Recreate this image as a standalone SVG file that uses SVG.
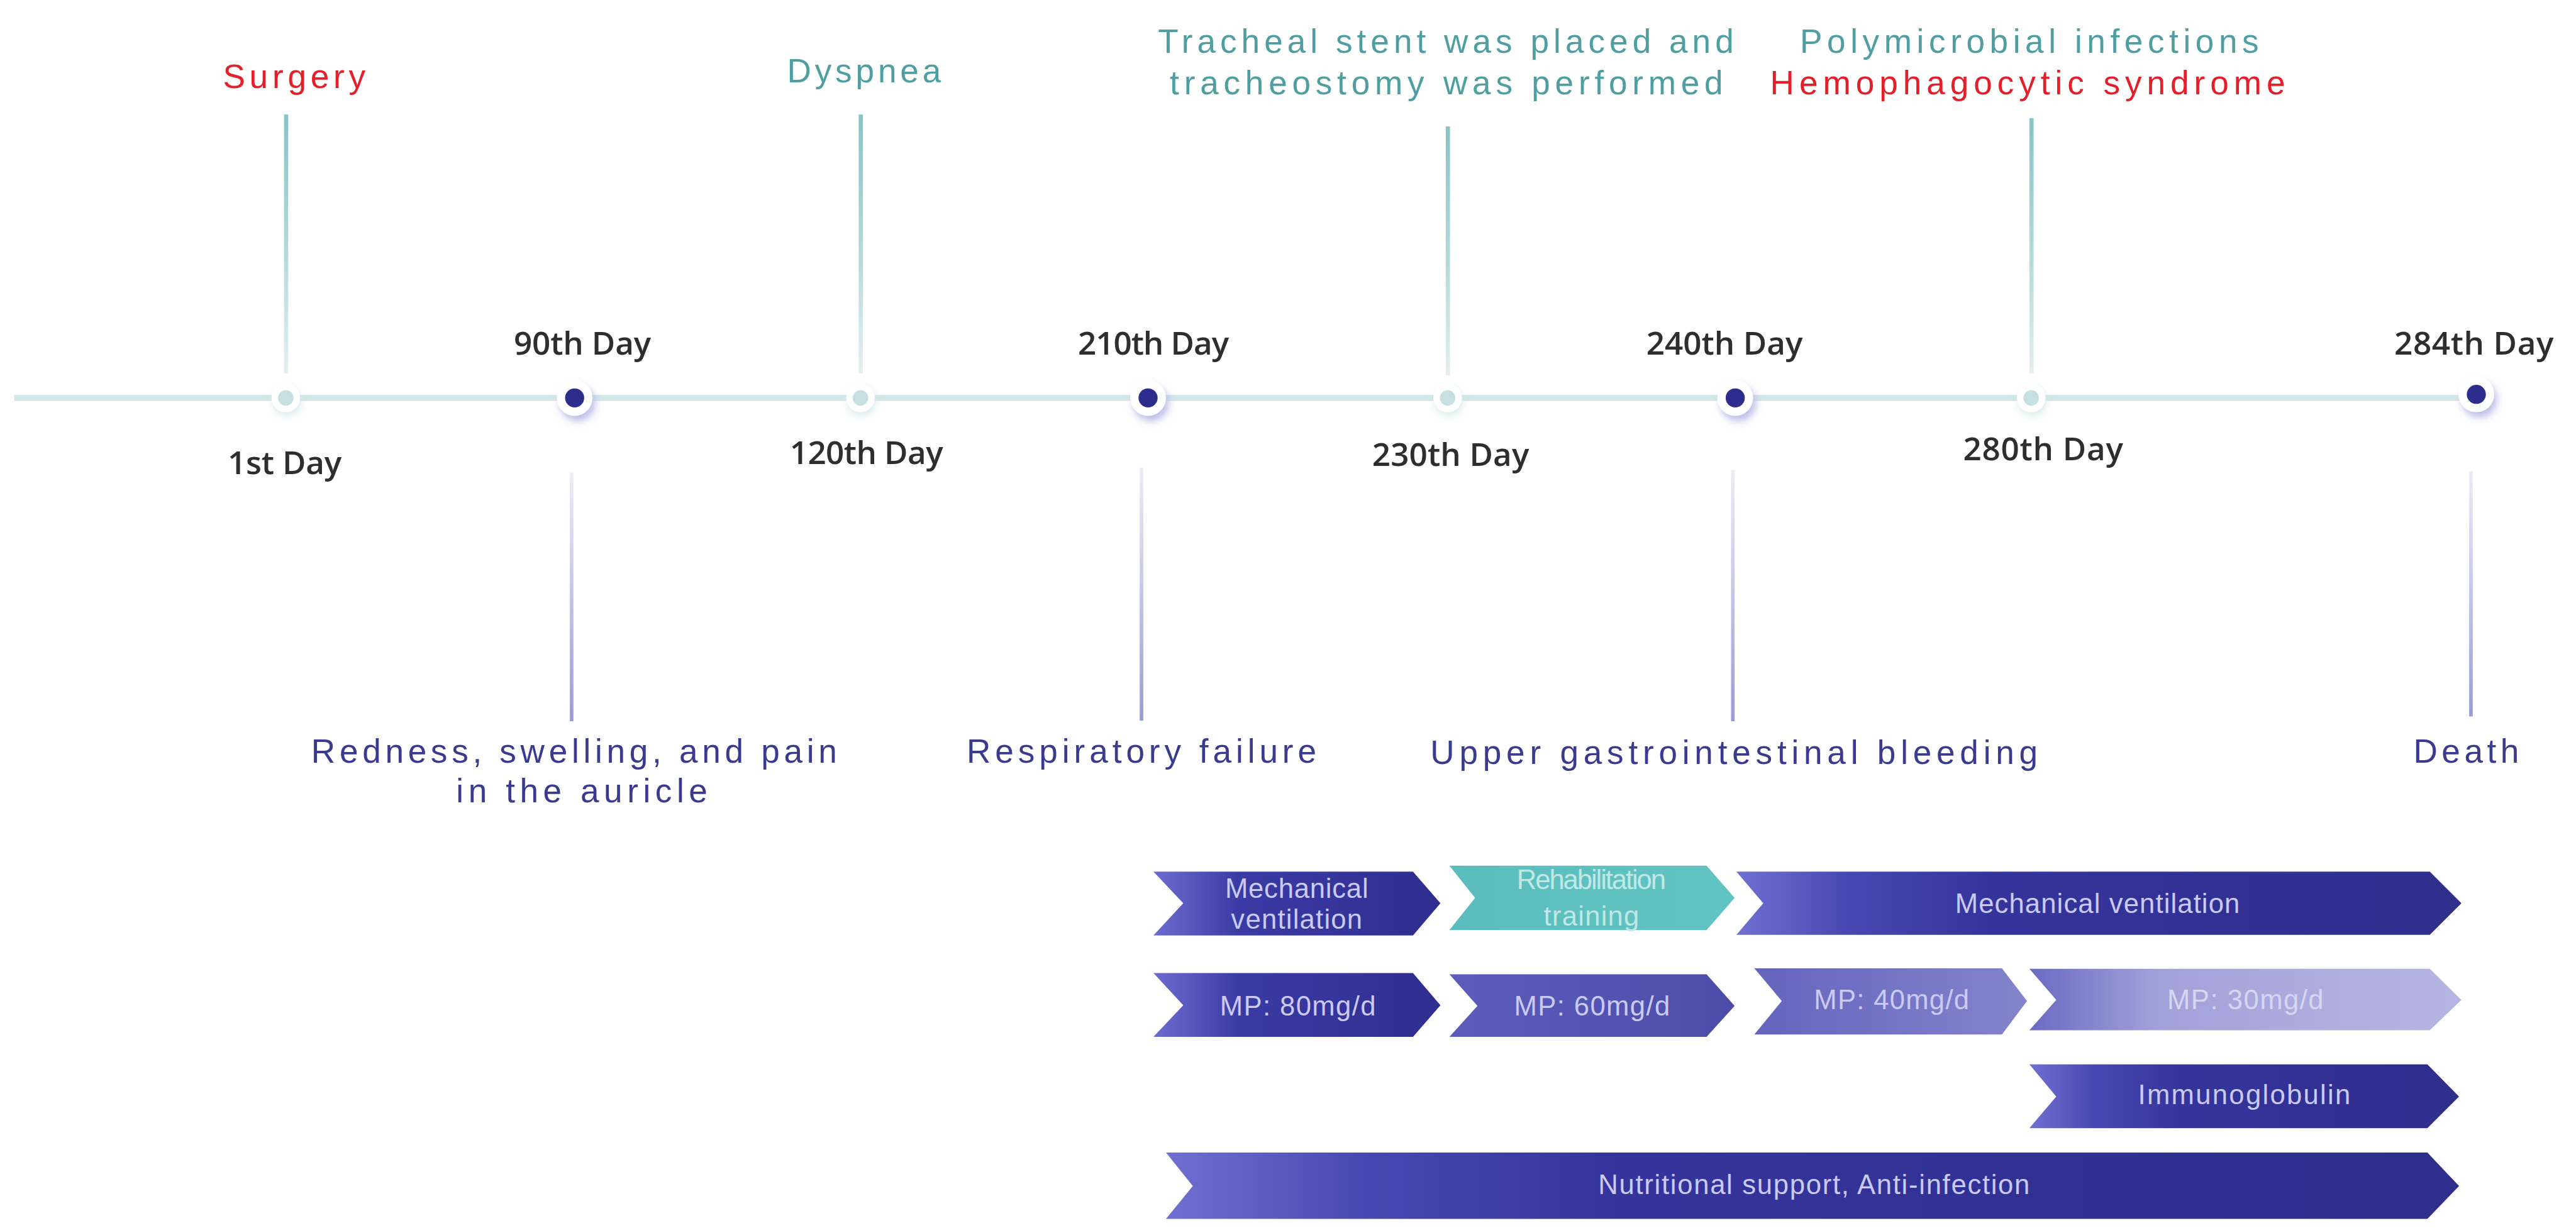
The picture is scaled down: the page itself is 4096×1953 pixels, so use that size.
<svg xmlns="http://www.w3.org/2000/svg" width="4096" height="1953" viewBox="0 0 4096 1953">
<style>
.day{font-family:"Open Sans","Liberation Sans",Arial,sans-serif;font-weight:600;font-size:54px;fill:#2e2e2e;text-anchor:middle}
.top{font-family:"Liberation Sans",Arial,sans-serif;font-size:56px;fill:#4f9ea2;text-anchor:middle}
.red{fill:#e3202a}
.bot{font-family:"Liberation Sans",Arial,sans-serif;font-size:56px;fill:#3a3a8e;text-anchor:middle}
.band{font-family:"Liberation Sans",Arial,sans-serif;font-size:46px;fill:#cacaf4;text-anchor:middle}
.vtop{fill:url(#gVTop)}
.vbot{fill:url(#gVBot)}
</style>
<defs>
<linearGradient id="gVTop" x1="0" y1="0" x2="0" y2="1"><stop offset="0" stop-color="#86c4c6"/><stop offset="0.6" stop-color="#b9dcdd"/><stop offset="1" stop-color="#e4efef"/></linearGradient>
<linearGradient id="gVBot" x1="0" y1="0" x2="0" y2="1"><stop offset="0" stop-color="#ececf6"/><stop offset="0.5" stop-color="#c4c4e8"/><stop offset="1" stop-color="#9a9ad8"/></linearGradient>
<linearGradient id="gShort" x1="0" y1="0" x2="1" y2="0"><stop offset="0" stop-color="#6c6cd0"/><stop offset="0.3" stop-color="#3a3aa4"/><stop offset="1" stop-color="#2e2e90"/></linearGradient>
<linearGradient id="gLong" x1="0" y1="0" x2="1" y2="0"><stop offset="0" stop-color="#7070d2"/><stop offset="0.15" stop-color="#4848b2"/><stop offset="0.35" stop-color="#34349c"/><stop offset="1" stop-color="#2e2e8c"/></linearGradient>
<linearGradient id="gMP60" x1="0" y1="0" x2="1" y2="0"><stop offset="0" stop-color="#5c5cbc"/><stop offset="1" stop-color="#4c4ca8"/></linearGradient>
<linearGradient id="gMP40" x1="0" y1="0" x2="1" y2="0"><stop offset="0" stop-color="#6464be"/><stop offset="1" stop-color="#8484cc"/></linearGradient>
<linearGradient id="gMP30" x1="0" y1="0" x2="1" y2="0"><stop offset="0" stop-color="#6a6ac4"/><stop offset="0.3" stop-color="#a2a2da"/><stop offset="1" stop-color="#b6b6e2"/></linearGradient>
<linearGradient id="gTeal" x1="0" y1="0" x2="1" y2="0"><stop offset="0" stop-color="#5abcbc"/><stop offset="1" stop-color="#62c4c2"/></linearGradient>
<filter id="shD" x="-100%" y="-100%" width="300%" height="300%"><feDropShadow dx="5" dy="9" stdDeviation="6" flood-color="#b8b8e6" flood-opacity="0.9"/></filter>
<filter id="shL" x="-100%" y="-100%" width="300%" height="300%"><feDropShadow dx="2" dy="6" stdDeviation="6" flood-color="#d6e8e8" flood-opacity="0.9"/></filter>
</defs>
<rect width="4096" height="1953" fill="#ffffff"/>
<g transform="scale(0.9488)">
<g id="connectors">
<rect x="24" y="662" width="4126" height="10" fill="#d2e6e6"/>
<rect class="vtop" x="476" y="192" width="7" height="434"/>
<rect class="vtop" x="1439" y="192" width="7" height="434"/>
<rect class="vtop" x="2423" y="212" width="7" height="417"/>
<rect class="vtop" x="3401" y="198" width="7" height="428"/>
<rect class="vbot" x="955" y="792" width="6" height="417"/>
<rect class="vbot" x="1910" y="784" width="6" height="424"/>
<rect class="vbot" x="2901" y="788" width="6" height="421"/>
<rect class="vbot" x="4138" y="790" width="6" height="411"/>
</g>
<g id="node-day1"><circle cx="479" cy="667" r="24" fill="#fff" filter="url(#shL)"/><circle cx="479" cy="667" r="13" fill="#c6dfe0"/>
<text class="day" x="477" y="795" textLength="191">1st Day</text>
<text class="top red" x="493" y="148" textLength="239">Surgery</text></g>
<g id="node-day90"><circle cx="963" cy="667" r="30" fill="#fff" filter="url(#shD)"/><circle cx="963" cy="667" r="16" fill="#2d2d8e"/>
<text class="day" x="976" y="594" textLength="230">90th Day</text>
<text class="bot" x="962" y="1278" textLength="881">Redness, swelling, and pain</text>
<text class="bot" x="975" y="1345" textLength="421">in the auricle</text></g>
<g id="node-day120"><circle cx="1442" cy="667" r="24" fill="#fff" filter="url(#shL)"/><circle cx="1442" cy="667" r="13" fill="#c6dfe0"/>
<text class="day" x="1452" y="778" textLength="257">120th Day</text>
<text class="top" x="1448" y="138" textLength="258">Dyspnea</text></g>
<g id="node-day210"><circle cx="1924" cy="667" r="30" fill="#fff" filter="url(#shD)"/><circle cx="1924" cy="667" r="16" fill="#2d2d8e"/>
<text class="day" x="1933" y="594" textLength="253">210th Day</text>
<text class="bot" x="1913" y="1278" textLength="586">Respiratory failure</text></g>
<g id="node-day230"><circle cx="2426" cy="667" r="24" fill="#fff" filter="url(#shL)"/><circle cx="2426" cy="667" r="13" fill="#c6dfe0"/>
<text class="day" x="2431" y="781" textLength="263">230th Day</text>
<text class="top" x="2423" y="89" textLength="965">Tracheal stent was placed and</text>
<text class="top" x="2424" y="158" textLength="927">tracheostomy was performed</text></g>
<g id="node-day240"><circle cx="2908" cy="667" r="30" fill="#fff" filter="url(#shD)"/><circle cx="2908" cy="667" r="16" fill="#2d2d8e"/>
<text class="day" x="2890" y="594" textLength="262">240th Day</text>
<text class="bot" x="2906" y="1281" textLength="1018">Upper gastrointestinal bleeding</text></g>
<g id="node-day280"><circle cx="3404" cy="667" r="24" fill="#fff" filter="url(#shL)"/><circle cx="3404" cy="667" r="13" fill="#c6dfe0"/>
<text class="day" x="3424" y="772" textLength="268">280th Day</text>
<text class="top" x="3401" y="89" textLength="769">Polymicrobial infections</text>
<text class="top red" x="3398" y="158" textLength="863">Hemophagocytic syndrome</text></g>
<g id="node-day284"><circle cx="4150" cy="661" r="30" fill="#fff" filter="url(#shD)"/><circle cx="4150" cy="661" r="16" fill="#2d2d8e"/>
<text class="day" x="4146" y="594" textLength="267">284th Day</text>
<text class="bot" x="4133" y="1278" textLength="177">Death</text></g>
<g id="band-mv1"><polygon points="1933,1461 2368,1461 2414,1514 2368,1568 1933,1568 1983,1514" fill="url(#gShort)"/>
<text class="band" x="2173" y="1505" textLength="240">Mechanical</text><text class="band" x="2173" y="1557" textLength="220">ventilation</text></g>
<g id="band-rehab"><polygon points="2429,1451 2860,1451 2907,1505 2860,1559 2429,1559 2472,1505" fill="url(#gTeal)"/>
<text class="band" x="2667" y="1490" style="fill:#bfe8e6" textLength="250">Rehabilitation</text><text class="band" style="fill:#bfe8e6" x="2667" y="1551" textLength="160">training</text></g>
<g id="band-mv2"><polygon points="2910,1461 4072,1461 4125,1514 4072,1567 2910,1567 2955,1514" fill="url(#gLong)"/>
<text class="band" x="3515" y="1530" textLength="477">Mechanical ventilation</text></g>
<g id="band-mp80"><polygon points="1933,1631 2368,1631 2414,1685 2368,1738 1933,1738 1983,1685" fill="url(#gShort)"/>
<text class="band" x="2175" y="1702" textLength="261">MP: 80mg/d</text></g>
<g id="band-mp60"><polygon points="2429,1633 2860,1633 2907,1686 2860,1738 2429,1738 2476,1686" fill="url(#gMP60)"/>
<text class="band" x="2668" y="1702" textLength="261">MP: 60mg/d</text></g>
<g id="band-mp40"><polygon points="2940,1623 3355,1623 3397,1678 3355,1734 2940,1734 2986,1678" fill="url(#gMP40)"/>
<text class="band" x="3170" y="1692" textLength="260">MP: 40mg/d</text></g>
<g id="band-mp30"><polygon points="3401,1624 4072,1624 4125,1676 4072,1727 3401,1727 3446,1676" fill="url(#gMP30)"/>
<text class="band" x="3763" y="1692" textLength="262" style="fill:#d6d6f2">MP: 30mg/d</text></g>
<g id="band-immuno"><polygon points="3401,1784 4068,1784 4121,1838 4068,1891 3401,1891 3446,1838" fill="url(#gLong)"/>
<text class="band" x="3761" y="1851" textLength="356">Immunoglobulin</text></g>
<g id="band-nutri"><polygon points="1954,1932 4068,1932 4121,1988 4068,2043 1954,2043 1999,1988" fill="url(#gLong)"/>
<text class="band" x="3040" y="2002" textLength="723">Nutritional support, Anti-infection</text></g>
</g>
</svg>
